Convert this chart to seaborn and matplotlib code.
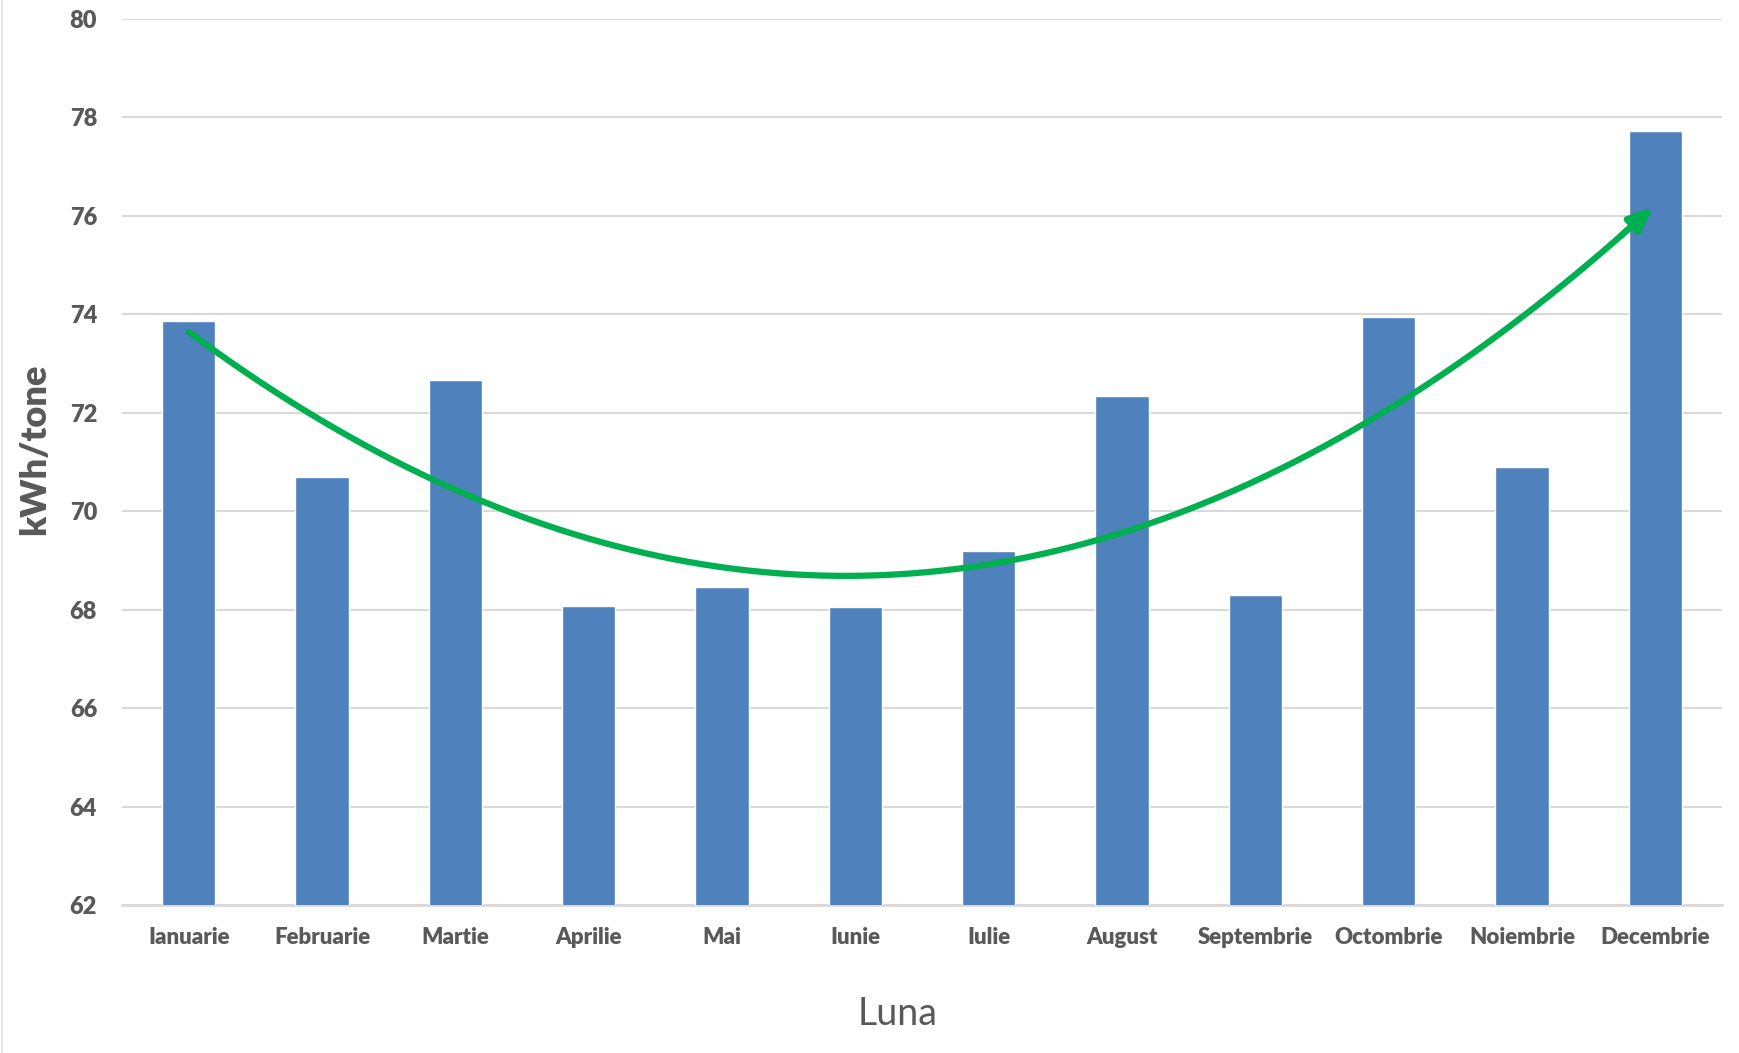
import numpy as np
import pandas as pd
import matplotlib.pyplot as plt
import seaborn as sns

luni = ['Ianuarie', 'Februarie', 'Martie', 'Aprilie', 'Mai', 'Iunie',
        'Iulie', 'August', 'Septembrie', 'Octombrie', 'Noiembrie', 'Decembrie']
consum = [73.87, 70.70, 72.67, 68.08, 68.46, 68.06,
          69.20, 72.35, 68.30, 73.95, 70.90, 77.72]
y_ticks = [62, 64, 66, 68, 70, 72, 74, 76, 78, 80]

df = pd.DataFrame({'luna': luni, 'kwh': consum})

sns.set_theme(style='white')
plt.rcParams['font.family'] = ['Lato', 'DejaVu Sans']
gray = '#595959'

fig = plt.figure(figsize=(17.39, 10.53), dpi=100)
ax = fig.add_axes([122 / 1739, 1 - 905 / 1053, 1600 / 1739, 886 / 1053])

sns.barplot(data=df, x='luna', y='kwh', color='#4F81BD', saturation=1,
            width=0.4, ax=ax, zorder=3)

ax.set_ylim(62, 80)
ax.set_yticks(y_ticks)
ax.set_xlim(-0.5, len(luni) - 0.5)
ax.yaxis.grid(True, color='#D9D9D9', linewidth=1.5, zorder=0)
ax.set_axisbelow(True)
for s in ['top', 'right', 'left']:
    ax.spines[s].set_visible(False)
ax.spines['bottom'].set_color('#D9D9D9')
ax.spines['bottom'].set_linewidth(2)
ax.tick_params(axis='x', length=0, labelsize=16, labelcolor=gray, pad=16)
ax.tick_params(axis='y', length=0, labelsize=17, labelcolor=gray, pad=18)
for lbl in ax.get_xticklabels() + ax.get_yticklabels():
    lbl.set_fontweight('heavy')

ax.set_xlabel('Luna', fontsize=27, color=gray)
ax.xaxis.set_label_coords((898 - 122) / 1600, -(996 - 905) / 886)
ax.set_ylabel('kWh/tone', fontsize=26, color=gray, fontweight='heavy')
ax.yaxis.set_label_coords(-(122 - 51) / 1600, (905 - 449) / 886)

# polynomial trend (order 2) drawn as a green arrow
x = np.arange(len(luni))
coef = np.polyfit(x, consum, 2)
xs = np.linspace(0, len(luni) - 1.0, 200)
ys = np.polyval(coef, xs)
ax.plot(xs[:-3], ys[:-3], color='#00B050', linewidth=4.5, zorder=4,
        solid_capstyle='round')
ax.annotate('', xy=(xs[-1], ys[-1]), xytext=(xs[-6], ys[-6]),
            arrowprops=dict(arrowstyle='-|>,head_length=1.2,head_width=0.5',
                            color='#00B050', lw=4.5), zorder=5)

fig.add_artist(plt.Line2D([0.001, 0.001], [0, 1], color='#E5E5E5', lw=1.5))

fig.savefig('out.png', dpi=100)
